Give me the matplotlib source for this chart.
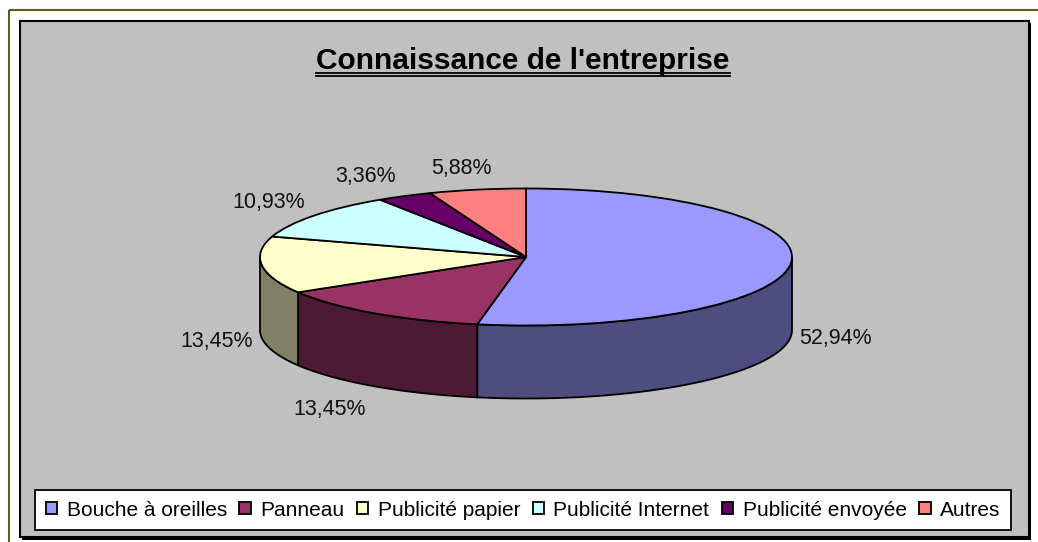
import numpy as np
import matplotlib
matplotlib.use('Agg')
import matplotlib.pyplot as plt
from matplotlib.patches import Rectangle, Polygon
from matplotlib.colors import to_rgb

labels = ['Bouche à oreilles', 'Panneau', 'Publicité papier',
          'Publicité Internet', 'Publicité envoyée', 'Autres']
pcts = [52.94, 13.45, 13.45, 10.93, 3.36, 5.88]
pct_text = ['52,94%', '13,45%', '13,45%', '10,93%', '3,36%', '5,88%']
colors = ['#9999FF', '#993366', '#FFFFCC', '#CCFFFF', '#660066', '#FF8080']
title = "Connaissance de l'entreprise"

plt.rcParams['font.family'] = ['Liberation Sans', 'DejaVu Sans']

W, H = 1038, 542
fig = plt.figure(figsize=(W / 100, H / 100), dpi=100)
fig.patch.set_facecolor('white')

# background frame, pixel coordinates
bg = fig.add_axes([0, 0, 1, 1])
bg.set_xlim(0, W)
bg.set_ylim(H, 0)
bg.axis('off')
bg.add_patch(Rectangle((9, 10), W, H, fill=False, edgecolor='#5c5c1f', lw=1.5))
bg.add_patch(Rectangle((22, 23), 1009, 517, facecolor='black', edgecolor='none'))
bg.add_patch(Rectangle((20, 21), 1009, 516, facecolor='#C0C0C0',
                       edgecolor='black', lw=1.5))

# pie: squashed ellipse, x unit = 266 px, y unit = 68.5 px
cx, cy, rx, ry = 526, 257, 266, 68.5
depth = 73 / ry
ax = fig.add_axes([0, 0, 1, 1])
ax.patch.set_alpha(0)
wedges, _ = ax.pie(pcts, colors=colors, startangle=90, counterclock=False,
                   wedgeprops=dict(edgecolor='black', linewidth=1.3, zorder=3))
ax.set_aspect('auto')
ax.set_xlim(-cx / rx, (W - cx) / rx)
ax.set_ylim(-(H - cy) / ry, cy / ry)
ax.axis('off')

# side walls of the front half
bounds = 90 - 360 * np.concatenate([[0], np.cumsum(pcts) / sum(pcts)])
for i, c in enumerate(colors):
    hi, lo = bounds[i], bounds[i + 1]
    for shift in (-360, 0, 360):
        a, b = max(lo + shift, -180), min(hi + shift, 0)
        if b > a:
            t = np.radians(np.linspace(a, b, 120))
            xs, ys = np.cos(t), np.sin(t)
            verts = np.column_stack([np.r_[xs, xs[::-1]],
                                     np.r_[ys, ys[::-1] - depth]])
            ax.add_patch(Polygon(verts, closed=True,
                                 facecolor=np.array(to_rgb(c)) * 0.5,
                                 edgecolor='black', lw=1.3, zorder=1))

# percentage labels
mids = (bounds[:-1] + bounds[1:]) / 2
for m, s in zip(mids, pct_text):
    t = np.radians(m)
    c, sn = np.cos(t), np.sin(t)
    y0 = sn - (depth if sn < 0 else 0)
    w = 12 * len(s)
    dx = np.sign(c) * min(1, abs(c) * 2.2) * (w / 2 + 9)
    dy = sn * (22 if sn > 0 else 28)
    ax.annotate(s, (c, y0), xytext=(dx * 0.72, dy * 0.72),
                textcoords='offset points', ha='center', va='center',
                fontsize=15.5, color='#111111')

leg = fig.legend(wedges, labels, loc='center', bbox_to_anchor=(523 / W, 1 - 510 / H),
                 ncol=6, fontsize=15, frameon=True, fancybox=False,
                 edgecolor='black', facecolor='white', framealpha=1,
                 handlelength=0.55, handleheight=0.55, handletextpad=0.45,
                 columnspacing=0.6, borderpad=0.5)
leg.get_frame().set_linewidth(1.3)

tt = fig.text(523 / W, 1 - 69 / H, title, ha='center', va='baseline',
              fontsize=21.5, fontweight='bold')
fig.canvas.draw()
bb = tt.get_window_extent()
for yy in (72.5, 76):
    bg.plot([bb.x0, bb.x1], [yy, yy], color='black', lw=1.3)

fig.savefig('out.png', dpi=100)
